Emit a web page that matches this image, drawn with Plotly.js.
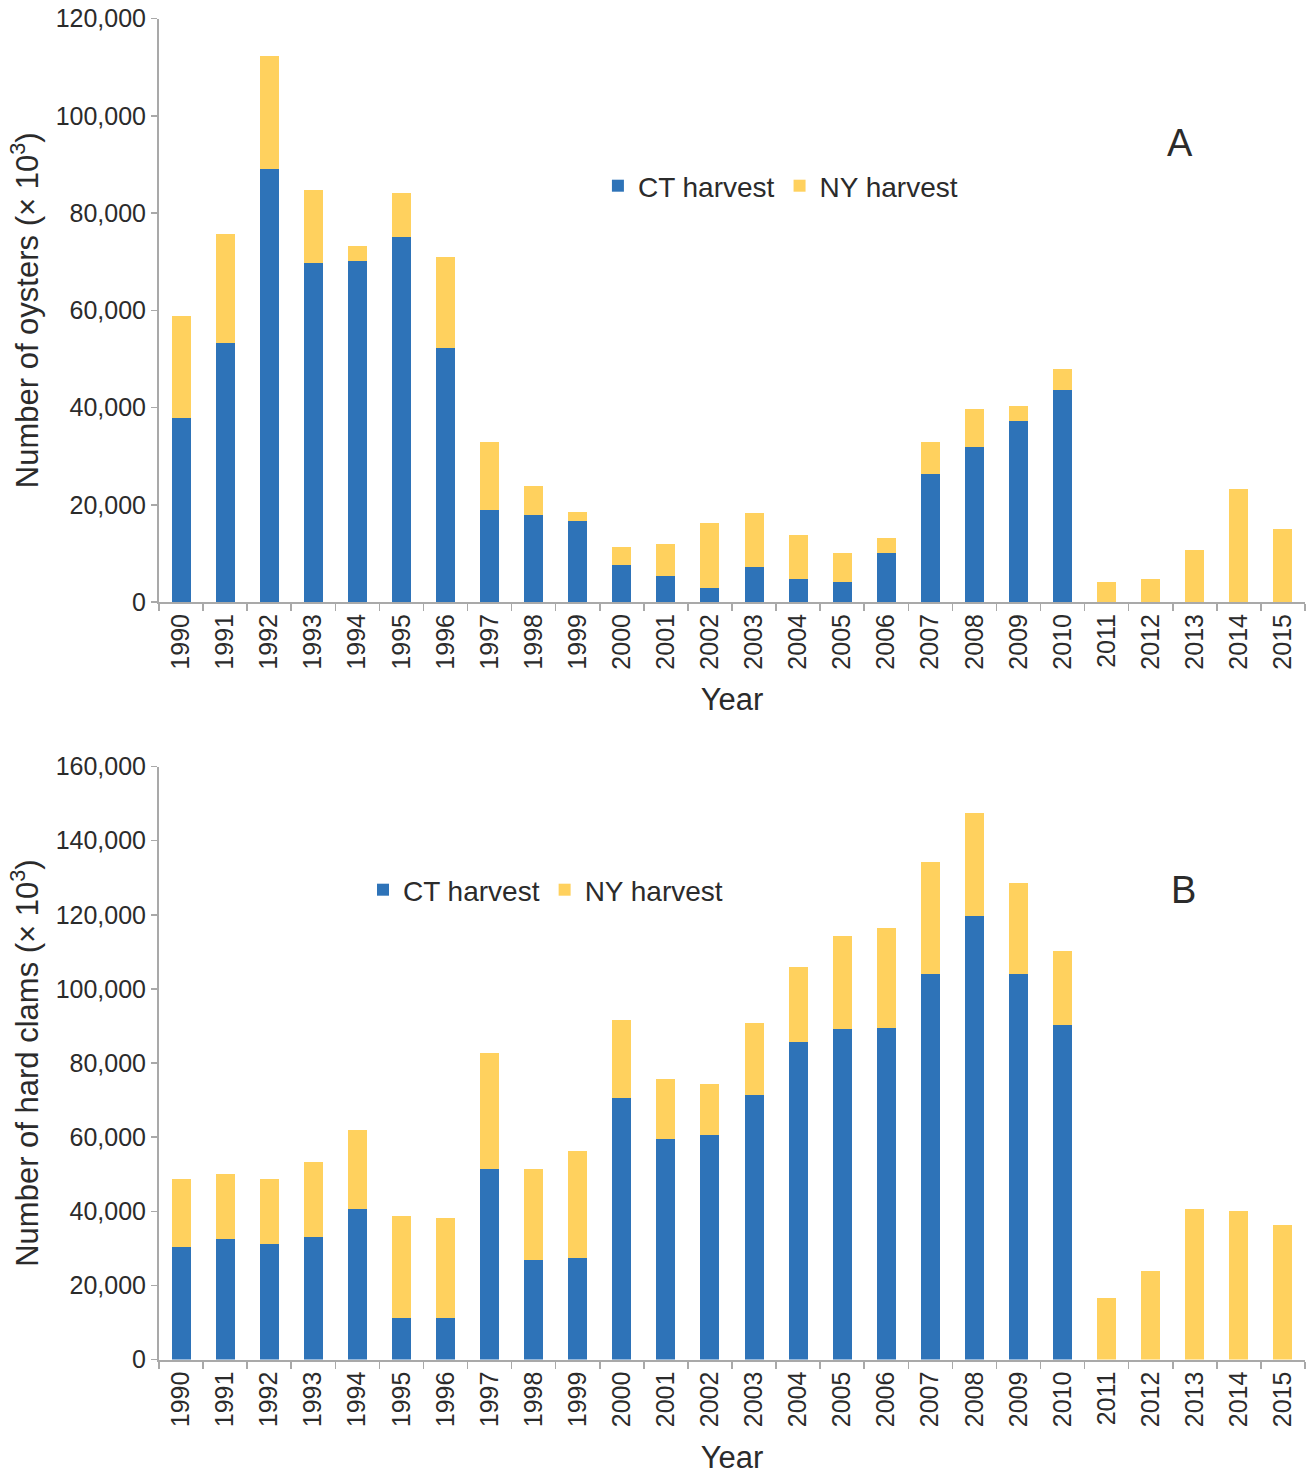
<!DOCTYPE html>
<html>
<head>
<meta charset="utf-8">
<script src="https://cdn.plot.ly/plotly-3.0.1.min.js"></script>
<style>html,body{margin:0;padding:0;background:#fff;}#chart{width:1312px;height:1481px;}</style>
</head>
<body>
<div id="chart"></div>
<script>
const years = ["1990","1991","1992","1993","1994","1995","1996","1997","1998","1999","2000","2001","2002","2003","2004","2005","2006","2007","2008","2009","2010","2011","2012","2013","2014","2015"];

// Panel A: oysters (x 10^3)
const oysterCT = [37800,53300,89000,69800,70200,75100,52300,19000,18000,16700,7700,5300,2900,7200,4700,4100,10100,26300,31900,37200,43700,0,0,0,0,0];
const oysterNY = [21000,22400,23400,15000,3100,9100,18700,14000,5900,1900,3600,6700,13300,11200,9000,5900,3000,6700,7800,3100,4300,4100,4800,10700,23300,15000];

// Panel B: hard clams (x 10^3)
const clamCT = [30500,32500,31200,33000,40600,11200,11200,51300,26900,27500,70700,59400,60700,71300,85800,89100,89500,104000,119700,104000,90200,0,0,0,0,0];
const clamNY = [18200,17600,17600,20200,21400,27600,26900,31400,24400,28900,20800,16400,13700,19600,20100,25100,27000,30200,27800,24500,20100,16700,23800,40600,40100,36200];

const blue = "#2e73b8";
const yellow = "#ffd15e";
const fontFam = "Liberation Sans, Arial, sans-serif";
const txt = "#2b2b2b";
const axisCol = "#a9a9a9";

const traces = [
  {type:"bar", x:years, y:oysterCT, name:"CT harvest", marker:{color:blue}, xaxis:"x", yaxis:"y", legend:"legend"},
  {type:"bar", x:years, y:oysterNY, name:"NY harvest", marker:{color:yellow}, xaxis:"x", yaxis:"y", legend:"legend"},
  {type:"bar", x:years, y:clamCT, name:"CT harvest", marker:{color:blue}, xaxis:"x2", yaxis:"y2", legend:"legend2"},
  {type:"bar", x:years, y:clamNY, name:"NY harvest", marker:{color:yellow}, xaxis:"x2", yaxis:"y2", legend:"legend2"}
];

function xax(anchor){
  return {
    anchor: anchor, type:"category", range:[-0.5,25.5],
    tickangle:-90, tickfont:{family:fontFam, size:25, color:txt},
    showline:true, linecolor:axisCol, linewidth:2,
    ticks:"outside", tickson:"boundaries", ticklen:7, tickcolor:axisCol, tickwidth:1.5,
    showgrid:false, zeroline:false,
    title:{text:"Year", font:{family:fontFam, size:31, color:txt}, standoff:20}
  };
}
function yax(anchor, domain, max, dtick, title){
  return {
    anchor: anchor, domain: domain, range:[0,max], dtick:dtick,
    tickformat:",d", tickfont:{family:fontFam, size:25, color:txt},
    showline:true, linecolor:axisCol, linewidth:2,
    ticks:"outside", ticklen:6, tickcolor:axisCol, tickwidth:1.5,
    showgrid:false, zeroline:false,
    title:{text:title, font:{family:fontFam, size:31, color:txt}, standoff:8}
  };
}

const layout = {
  width:1312, height:1481,
  margin:{l:159, r:7, t:0, b:0},
  paper_bgcolor:"#fff", plot_bgcolor:"#fff",
  barmode:"stack", bargap:0.57,
  showlegend:true,
  font:{family:fontFam, color:txt},
  xaxis: xax("y"),
  yaxis: yax("x", [0.5935, 0.9874], 120000, 20000, "Number of oysters (× 10<sup>3</sup>)"),
  xaxis2: xax("y2"),
  yaxis2: yax("x2", [0.0820, 0.4824], 160000, 20000, "Number of hard clams (× 10<sup>3</sup>)"),
  legend:{orientation:"h", x:0.383, y:1-186/1481, xanchor:"left", yanchor:"middle",
          font:{family:fontFam, size:28, color:txt}, bgcolor:"rgba(0,0,0,0)", traceorder:"normal", itemwidth:30},
  legend2:{orientation:"h", x:0.178, y:1-890/1481, xanchor:"left", yanchor:"middle",
          font:{family:fontFam, size:28, color:txt}, bgcolor:"rgba(0,0,0,0)", traceorder:"normal", itemwidth:30},
  annotations:[
    {text:"A", xref:"paper", yref:"paper", x:(1180-159)/1146, y:1-143/1481, xanchor:"center", yanchor:"middle", showarrow:false, font:{family:fontFam, size:38, color:txt}},
    {text:"B", xref:"paper", yref:"paper", x:(1183-159)/1146, y:1-890/1481, xanchor:"center", yanchor:"middle", showarrow:false, font:{family:fontFam, size:38, color:txt}}
  ]
};

Plotly.newPlot("chart", traces, layout, {displayModeBar:false, staticPlot:true});
</script>
</body>
</html>
